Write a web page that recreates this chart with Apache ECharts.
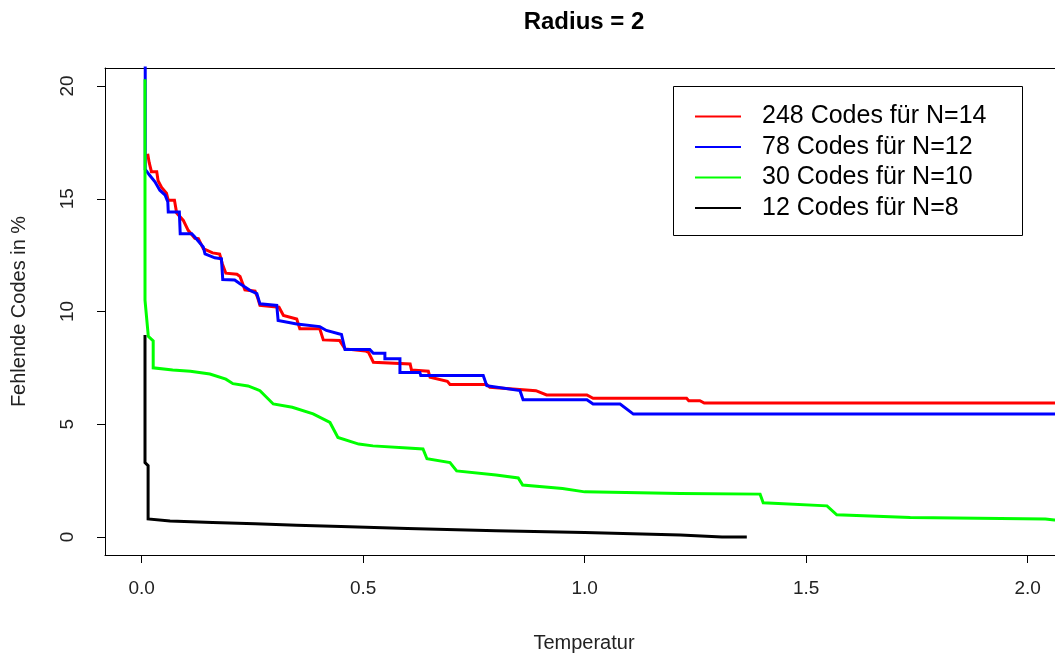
<!DOCTYPE html>
<html>
<head>
<meta charset="utf-8">
<title>Radius = 2</title>
<script src="https://cdn.jsdelivr.net/npm/echarts@6/dist/echarts.min.js"></script>
<style>
  html, body { margin: 0; padding: 0; background: #fff; }
  #chart { width: 1055px; height: 659px; }
</style>
</head>
<body>
<div id="chart"></div>
<script>
// Temperatur / Fehlende Codes in %
var seriesNames = ['248 Codes für N=14', '78 Codes für N=12', '30 Codes für N=10', '12 Codes für N=8'];
var seriesColors = ['#ff0000', '#0000ff', '#00ff00', '#000000'];
var xTicks = [0, 0.5, 1, 1.5, 2];
var yTicks = [0, 5, 10, 15, 20];

var codesN14 = [
  [0.0135, 17.0], [0.017, 16.6], [0.022, 16.2], [0.034, 16.2], [0.037, 15.8], [0.045, 15.5],
  [0.056, 15.25], [0.06, 14.93], [0.074, 14.93], [0.079, 14.37], [0.094, 14.04], [0.105, 13.6],
  [0.12, 13.25], [0.128, 13.23], [0.139, 12.79], [0.16, 12.6], [0.176, 12.55], [0.182, 12.12],
  [0.19, 11.7], [0.215, 11.65], [0.222, 11.55], [0.233, 10.96], [0.256, 10.9], [0.262, 10.6],
  [0.267, 10.27], [0.31, 10.19], [0.32, 9.82], [0.35, 9.67], [0.357, 9.23], [0.402, 9.23],
  [0.41, 8.74], [0.447, 8.71], [0.459, 8.34], [0.505, 8.25], [0.512, 8.19], [0.523, 7.75],
  [0.606, 7.67], [0.609, 7.41], [0.647, 7.35], [0.651, 7.08], [0.69, 6.9], [0.696, 6.76],
  [0.779, 6.76], [0.786, 6.64], [0.89, 6.49], [0.914, 6.3], [1.005, 6.3], [1.019, 6.15],
  [1.23, 6.15], [1.235, 6.04], [1.26, 6.04], [1.27, 5.94], [2.1, 5.94]
];
var codesN12 = [
  [0.008, 22], [0.008, 16.3], [0.0135, 16.16], [0.018, 16.04], [0.03, 15.75], [0.041, 15.38],
  [0.053, 15.16], [0.059, 14.86], [0.06, 14.41], [0.085, 14.41], [0.087, 13.45], [0.113, 13.45],
  [0.12, 13.3], [0.139, 12.86], [0.143, 12.56], [0.165, 12.38], [0.18, 12.34], [0.183, 11.42],
  [0.21, 11.4], [0.222, 11.23], [0.245, 10.93], [0.26, 10.79], [0.267, 10.34], [0.305, 10.27],
  [0.308, 9.6], [0.35, 9.45], [0.402, 9.33], [0.417, 9.16], [0.451, 8.98], [0.459, 8.31],
  [0.515, 8.31], [0.523, 8.15], [0.549, 8.15], [0.549, 7.9], [0.583, 7.9], [0.583, 7.3],
  [0.628, 7.3], [0.63, 7.16], [0.771, 7.16], [0.779, 6.71], [0.854, 6.49], [0.861, 6.09],
  [1.005, 6.09], [1.019, 5.9], [1.08, 5.9], [1.11, 5.45], [2.1, 5.45]
];
var codesN10 = [
  [0.0075, 20.3], [0.0075, 10.5], [0.015, 8.9], [0.026, 8.7], [0.026, 7.5], [0.07, 7.41],
  [0.11, 7.35], [0.154, 7.23], [0.19, 7.0], [0.206, 6.8], [0.24, 6.7], [0.26, 6.55],
  [0.267, 6.49], [0.297, 5.9], [0.34, 5.75], [0.387, 5.46], [0.425, 5.08], [0.443, 4.41],
  [0.49, 4.12], [0.522, 4.04], [0.6, 3.95], [0.635, 3.9], [0.644, 3.47], [0.696, 3.3],
  [0.711, 2.93], [0.8, 2.75], [0.85, 2.62], [0.86, 2.3], [0.95, 2.15], [1.0, 2.0],
  [1.216, 1.93], [1.396, 1.9], [1.403, 1.52], [1.547, 1.38], [1.569, 0.98], [1.735, 0.86],
  [2.04, 0.8], [2.06, 0.75], [2.1, 0.75]
];
var codesN8 = [
  [0.0075, 8.96], [0.0075, 3.3], [0.0145, 3.16], [0.0145, 0.8], [0.064, 0.71], [0.16, 0.64],
  [0.256, 0.59], [0.35, 0.52], [0.45, 0.46], [0.6, 0.38], [0.8, 0.28], [1.0, 0.2],
  [1.216, 0.09], [1.31, 0.0], [1.366, 0.0]
];
var allData = [codesN14, codesN12, codesN10, codesN8];

var chart = echarts.init(document.getElementById('chart'));
var font = 'Liberation Sans, Arial, sans-serif';

var series = allData.map(function (d, i) {
  return {
    name: seriesNames[i],
    type: 'line',
    data: d,
    showSymbol: false,
    symbol: 'none',
    clip: true,
    animation: false,
    lineStyle: { color: seriesColors[i], width: 3, join: 'miter', cap: 'butt' },
    itemStyle: { color: seriesColors[i] }
  };
});

// x range: the plot box is cut off by the right edge of the picture
var xMin = -0.0828, xMax = 2.0617;

var option = {
  backgroundColor: '#fff',
  animation: false,
  title: {
    text: 'Radius = 2',
    left: 584,
    top: 10,
    padding: 0,
    textAlign: 'center',
    textStyle: { fontFamily: font, fontSize: 24, fontWeight: 'bold', color: '#000' }
  },
  grid: { left: 105, top: 68, right: 0, bottom: 104 },
  legend: {
    orient: 'vertical',
    left: 695,
    top: 104,
    padding: 0,
    itemGap: 5.5,
    itemWidth: 46,
    itemHeight: 2,
    icon: 'rect',
    selectedMode: false,
    data: seriesNames,
    textStyle: { fontFamily: font, fontSize: 25, lineHeight: 24, color: '#000', padding: [0, 0, 0, 16] }
  },
  graphic: [{
    type: 'rect',
    shape: { x: 673.5, y: 86.5, width: 349, height: 149 },
    style: { fill: 'none', stroke: '#000', lineWidth: 1 },
    z: 10
  }],
  xAxis: [{
    type: 'value',
    min: xMin,
    max: xMax,
    name: 'Temperatur',
    nameLocation: 'middle',
    nameGap: 78,
    nameTextStyle: { fontFamily: font, fontSize: 20, color: '#222', padding: [0, 0, 0, 8] },
    axisLine: { show: true, onZero: false, lineStyle: { color: '#000', width: 1 } },
    axisTick: { show: true, length: 8, customValues: xTicks, lineStyle: { color: '#000' } },
    axisLabel: {
      customValues: xTicks, margin: 24, fontFamily: font, fontSize: 19, color: '#222',
      formatter: function (v) { return v.toFixed(1); }
    },
    splitLine: { show: false }
  }, {
    // top edge of the box
    type: 'value',
    position: 'top',
    min: xMin,
    max: xMax,
    axisLine: { show: true, onZero: false, lineStyle: { color: '#000', width: 1 } },
    axisTick: { show: false },
    axisLabel: { show: false },
    splitLine: { show: false }
  }],
  yAxis: {
    type: 'value',
    min: -0.8,
    max: 20.8,
    name: 'Fehlende Codes in %',
    nameLocation: 'middle',
    nameRotate: 90,
    nameGap: 76,
    nameTextStyle: { fontFamily: font, fontSize: 20, color: '#222' },
    axisLine: { show: true, onZero: false, lineStyle: { color: '#000', width: 1 } },
    axisTick: { show: true, length: 8, customValues: yTicks, lineStyle: { color: '#000' } },
    axisLabel: {
      customValues: yTicks, rotate: 90, margin: 28, fontFamily: font, fontSize: 19, color: '#222',
      formatter: function (v) { return String(v); }
    },
    splitLine: { show: false }
  },
  series: series
};

chart.setOption(option);
</script>
</body>
</html>
